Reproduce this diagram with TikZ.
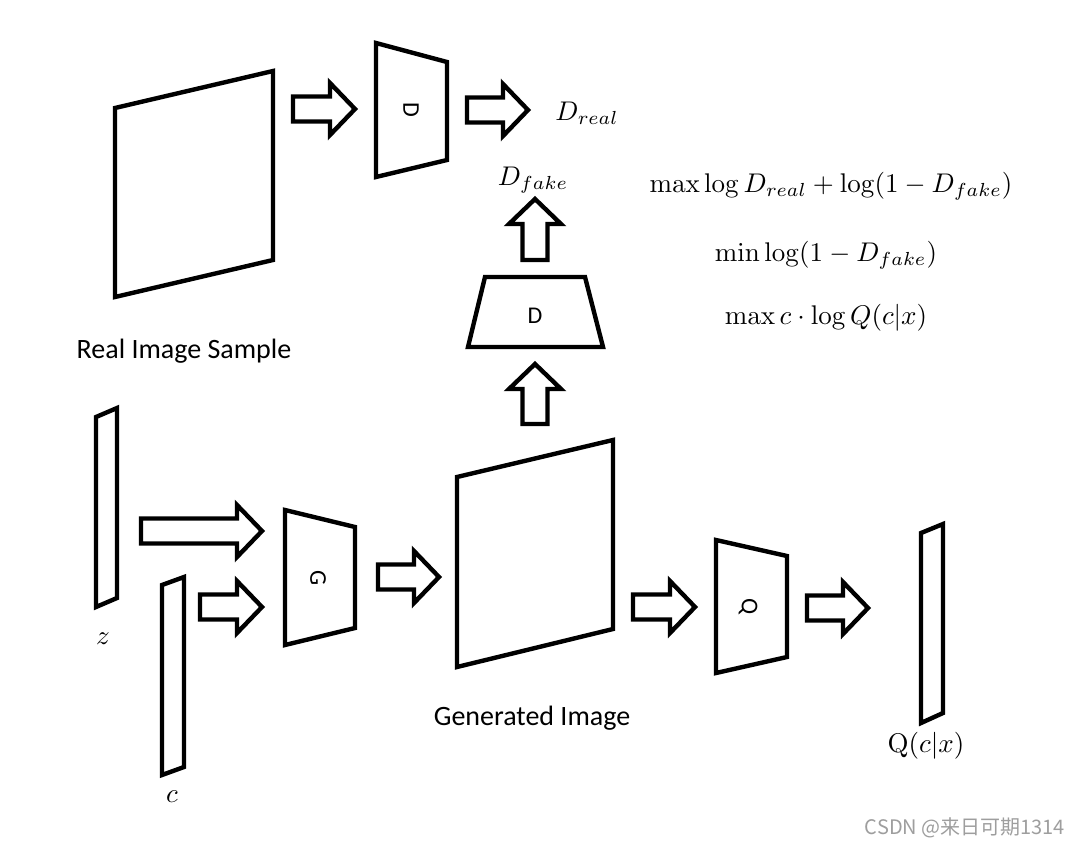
\documentclass[tikz,border=0pt]{standalone}
\usepackage{graphicx}
\usepackage[no-math]{fontspec}
\setmainfont{Carlito}
\newfontfamily\cjkfont{Noto Sans CJK SC}
\newcommand{\mbig}[1]{\scalebox{1.35}{$#1$}}
\begin{document}
\begin{tikzpicture}[x=0.5pt,y=-0.5pt,
  blockshape/.style={draw=black,line width=2.2pt,line join=miter},
  barrowline/.style={draw=black,line width=2.2pt,line join=miter,fill=white},
  barrow/.pic={\path[barrowline] (0,-12.5) -- (#1-25,-12.5) -- (#1-25,-26) -- (#1,0) -- (#1-25,26) -- (#1-25,12.5) -- (0,12.5) -- cycle;},
  lbl/.style={inner sep=0pt,font=\fontsize{14}{16}\selectfont},
  inlbl/.style={inner sep=0pt,font=\fontsize{12}{14}\selectfont},
  mth/.style={inner sep=0pt}
]
\useasboundingbox[fill=white] (0,0) rectangle (1080,846);

% Real image sample
\path[blockshape] (115,108) -- (273,71) -- (273,260) -- (115,297) -- cycle;
\node[lbl] (realtxt) at (184,351) {Real Image Sample};

% top D
\path[blockshape] (376,43) -- (447,62) -- (447,160) -- (376,177) -- cycle;
\node[inlbl,rotate=-90] (dtop) at (411,110) {D};
\node[mth] (dreal) at (587,113) {\mbig{D_{real}}};

% arrows top row
\pic at (293,109) {barrow=62};
\pic at (467,110) {barrow=61};

% D_fake and middle D
\node[mth] (dfake) at (533,180) {\mbig{D_{fake}}};
\pic[rotate=90] at (535,260) {barrow=61};
\path[blockshape] (485,277) -- (585,277) -- (603,347) -- (468,347) -- cycle;
\node[inlbl] (dmid) at (535,316) {D};
\pic[rotate=90] at (535,424) {barrow=60};

% formulas
\node[mth] (f1) at (831,186) {\mbig{\max\log D_{real}+\log(1-D_{fake})}};
\node[mth] (f2) at (826,255) {\mbig{\min\log(1-D_{fake})}};
\node[mth] (f3) at (826,318) {\mbig{\max c\cdot\log Q(c|x)}};

% z and c
\path[blockshape] (96,417) -- (117,408) -- (117,598) -- (96,607) -- cycle;
\node[mth] (zl) at (103,639) {\mbig{z}};
\path[blockshape] (162,585) -- (184,577) -- (184,767) -- (162,775) -- cycle;
\node[mth] (cl) at (172,797) {\mbig{c}};
\pic at (141,531) {barrow=121};
\pic at (200,607) {barrow=62};

% G
\path[blockshape] (285,510) -- (355,527) -- (355,628) -- (285,645) -- cycle;
\node[inlbl,rotate=-90] (gl) at (318,578) {G};
\pic at (378,577) {barrow=61};

% generated image
\path[blockshape] (457,477) -- (613,440) -- (613,629) -- (457,667) -- cycle;
\node[lbl] (gentxt) at (532,718) {Generated Image};
\pic at (633,607) {barrow=62};

% Q
\path[blockshape] (716,540) -- (787,556) -- (787,657) -- (716,673) -- cycle;
\node[inlbl,rotate=-90] (ql) at (748,607) {Q};
\pic at (807,608) {barrow=61};

% Q bar
\path[blockshape] (921,533) -- (943,524) -- (943,713) -- (921,723) -- cycle;
\node[mth] (qcx) at (926,746) {\mbig{\mathrm{Q}(c|x)}};

% watermark
\node[inner sep=0pt,text=black!38,font=\cjkfont\fontsize{10}{12}\selectfont] (wm) at (965,828) {CSDN @来日可期1314};
\end{tikzpicture}
\end{document}
